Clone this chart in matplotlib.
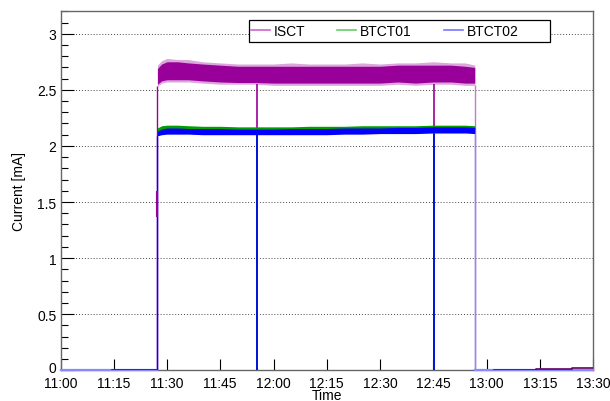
import numpy as np
import matplotlib.pyplot as plt
from matplotlib.lines import Line2D
from matplotlib.patches import Rectangle
from matplotlib.transforms import ScaledTranslation

plt.rcParams['font.family'] = ['Liberation Sans', 'DejaVu Sans']

# Etiquetas del eje de tiempo (cada 15 minutos)
time_labels = ["11:00", "11:15", "11:30", "11:45", "12:00", "12:15",
               "12:30", "12:45", "13:00", "13:15", "13:30"]
current_ticks = [0, 0.5, 1, 1.5, 2, 2.5, 3]
current_labels = ["0", "0.5", "1", "1.5", "2", "2.5", "3"]


def hhmm_to_min(s):
    # minutos desde las 11:00
    h, m = s.split(":")
    return (int(h) - 11) * 60 + int(m)


# Eventos del haz (minutos desde las 11:00)
beam_on = 27.3
beam_off = 116.7
dip_times = [55.3, 105.1]

env_t = [27.3, 28.5, 30, 33, 36, 40, 45, 50, 55, 60, 65, 70, 75,
         80, 85, 90, 95, 100, 105, 110, 114, 116.7]
isct_top = [2.72, 2.76, 2.78, 2.77, 2.77, 2.75, 2.74, 2.73, 2.73, 2.73, 2.74, 2.73, 2.73,
            2.73, 2.74, 2.73, 2.74, 2.74, 2.75, 2.74, 2.74, 2.72]
isct_bot = [2.53, 2.56, 2.57, 2.57, 2.57, 2.56, 2.55, 2.55, 2.55, 2.54, 2.54, 2.54, 2.54,
            2.54, 2.54, 2.54, 2.55, 2.54, 2.55, 2.55, 2.54, 2.54]
isct_core_top = [2.69, 2.73, 2.75, 2.75, 2.74, 2.73, 2.72, 2.71, 2.71, 2.71, 2.71, 2.71, 2.71,
                 2.71, 2.71, 2.71, 2.72, 2.72, 2.72, 2.72, 2.71, 2.70]
isct_core_bot = [2.55, 2.58, 2.59, 2.59, 2.59, 2.58, 2.57, 2.565, 2.565, 2.56, 2.56, 2.56, 2.56,
                 2.56, 2.56, 2.56, 2.57, 2.56, 2.57, 2.57, 2.56, 2.56]
btct01_top = [2.16, 2.18, 2.185, 2.185, 2.18, 2.175, 2.175, 2.17, 2.17, 2.17, 2.17, 2.175, 2.175,
              2.175, 2.18, 2.18, 2.18, 2.18, 2.185, 2.185, 2.185, 2.18]
btct01_bot = [2.12, 2.13, 2.14, 2.14, 2.14, 2.13, 2.13, 2.13, 2.13, 2.13, 2.13, 2.13, 2.13,
              2.13, 2.14, 2.14, 2.14, 2.14, 2.14, 2.14, 2.14, 2.14]
btct02_top = [2.13, 2.15, 2.16, 2.16, 2.155, 2.155, 2.155, 2.15, 2.15, 2.15, 2.155, 2.155, 2.155,
              2.16, 2.16, 2.16, 2.165, 2.165, 2.17, 2.17, 2.17, 2.165]
btct02_bot = [2.09, 2.10, 2.105, 2.105, 2.105, 2.10, 2.10, 2.10, 2.10, 2.10, 2.10, 2.10, 2.10,
              2.105, 2.105, 2.11, 2.11, 2.11, 2.115, 2.115, 2.115, 2.11]

# Primera muestra al encender el haz
isct_first = 1.60
btct02_first = 1.37

# ISCT con el haz apagado
isct_pre_t = [14.5, 27.3]
isct_pre_v = [0.003, 0.003]
isct_post_t = [122, 134, 144, 150]
isct_post_v = [0.004, 0.008, 0.022, 0.022]

c_isct = '#990099'
c_b01 = '#00a000'
c_b02 = '#0000ff'

fig = plt.figure(figsize=(6.1, 4.02), dpi=100)
ax = fig.add_axes([60.5 / 610, 1 - 371.3 / 402, 532.5 / 610, 359 / 402])

# Linea base BTCT02 (haz apagado)
ax.plot([0, beam_on], [0, 0], color='#8888ff', lw=1.6, clip_on=False, zorder=4)
ax.plot([beam_off, 150], [0, 0], color='#8888ff', lw=1.6, clip_on=False, zorder=4)
ax.plot(isct_pre_t, isct_pre_v, color='#660066', lw=1.2, zorder=5)
ax.plot(isct_post_t, isct_post_v, color='#660066', lw=1.2, drawstyle='steps-post', zorder=5)

# ISCT
ax.fill_between(env_t, isct_bot, isct_top, color=c_isct, alpha=0.35, lw=0, zorder=2)
ax.fill_between(env_t, isct_core_bot, isct_core_top, color=c_isct, lw=0, zorder=2)
ax.vlines([beam_on], 0, isct_bot[0], color=c_isct, lw=1, zorder=2)
ax.vlines(dip_times, 0, 2.55, color=c_isct, lw=1.2, zorder=2)
ax.vlines([beam_off], 0, isct_bot[-1], color='#cc77cc', lw=1, zorder=2)

# BTCT01
ax.fill_between(env_t, btct01_bot, btct01_top, color=c_b01, lw=0, zorder=3)
ax.vlines(dip_times, 0, 2.14, color=c_b01, lw=1.2, zorder=3)

# BTCT02
ax.fill_between(env_t, btct02_bot, btct02_top, color=c_b02, lw=0, zorder=4)
ax.vlines([beam_on], 0, btct02_bot[0], color=c_b02, lw=1, zorder=4)
ax.vlines([beam_on], btct02_first, isct_first, color=c_isct, lw=1.5, zorder=5)
ax.vlines(dip_times, 0, 2.11, color=c_b02, lw=1.2, zorder=4)
ax.vlines([beam_off], 0, btct02_bot[-1], color='#8888ff', lw=1, zorder=4)

# Ejes
ax.set_xlim(0, 150)
ax.set_ylim(0, 3.2)
ax.set_xticks([hhmm_to_min(t) for t in time_labels])
ax.set_xticklabels(time_labels)
ax.set_yticks(current_ticks)
ax.set_yticklabels(current_labels)
ax.set_yticks(np.arange(0, 3.21, 0.1), minor=True)
ax.tick_params(axis='x', direction='in', length=8, width=0.8, labelsize=10, pad=4)
ax.tick_params(axis='y', which='major', direction='in', length=9, width=0.8, labelsize=10, pad=3)
ax.tick_params(axis='y', which='minor', direction='in', length=5, width=0.8)
ax.yaxis.grid(True, linestyle=(0, (1, 2)), color='#444444', lw=0.7)
for s in ax.spines.values():
    s.set_color('#666666')
    s.set_linewidth(1)

# subir un poco el "0" para que no pise a "11:00"
zero_lab = ax.get_yticklabels()[0]
zero_lab.set_transform(zero_lab.get_transform() + ScaledTranslation(0, 2.5 / 72, fig.dpi_scale_trans))

ax.set_ylabel("Current [mA]", fontsize=10, labelpad=8)
ax.set_xlabel("Time", fontsize=10, labelpad=-1)

# Leyenda
handles = [Line2D([], [], color='#cc66cc', lw=1.2),
           Line2D([], [], color='#66cc66', lw=1.2),
           Line2D([], [], color='#7777ff', lw=1.2)]
leg = ax.legend(handles, ["ISCT", "BTCT01", "BTCT02"], ncol=3, frameon=False,
                loc='center left', bbox_to_anchor=(0.355, 0.9455), fontsize=10,
                handlelength=1.35, handletextpad=0.3, columnspacing=2.3,
                borderpad=0.1, borderaxespad=0)
ax.add_patch(Rectangle((0.354, 0.914), 0.565, 0.063, transform=ax.transAxes,
                       facecolor='white', edgecolor='black', lw=0.9, zorder=6))
leg.set_zorder(7)

fig.savefig("out.png", dpi=100)
